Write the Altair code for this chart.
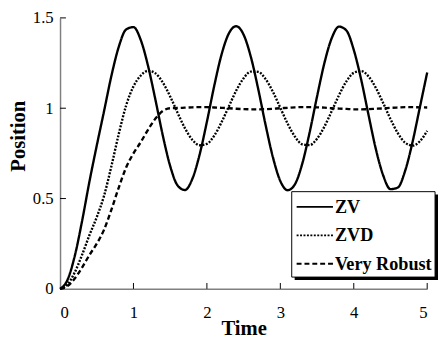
import altair as alt
import pandas as pd

TIME = [0.0, 0.1, 0.2, 0.3, 0.4, 0.5, 0.6, 0.7, 0.8, 0.9,
        1.0, 1.1, 1.2, 1.3, 1.4, 1.5, 1.6, 1.7, 1.8, 1.9,
        2.0, 2.1, 2.2, 2.3, 2.4, 2.5, 2.6, 2.7, 2.8, 2.9,
        3.0, 3.1, 3.2, 3.3, 3.4, 3.5, 3.6, 3.7, 3.8, 3.9,
        4.0, 4.1, 4.2, 4.3, 4.4, 4.5, 4.6, 4.7, 4.8, 4.9, 5.0]

ZV = [0.0, 0.048, 0.181, 0.375, 0.593, 0.793, 0.985, 1.180, 1.340, 1.436,
      1.449, 1.377, 1.232, 1.045, 0.848, 0.680, 0.573, 0.547, 0.607, 0.742,
      0.925, 1.124, 1.298, 1.415, 1.454, 1.407, 1.282, 1.104, 0.906, 0.727,
      0.597, 0.546, 0.580, 0.695, 0.868, 1.065, 1.250, 1.388, 1.452, 1.430,
      1.323, 1.160, 0.965, 0.775, 0.629, 0.552, 0.561, 0.654, 0.812, 1.005, 1.198]

ZVD = [0.0, 0.024, 0.091, 0.188, 0.297, 0.397, 0.516, 0.680, 0.858, 1.015,
       1.121, 1.181, 1.207, 1.193, 1.142, 1.065, 0.975, 0.890, 0.826, 0.795,
       0.803, 0.848, 0.923, 1.011, 1.098, 1.166, 1.203, 1.201, 1.161, 1.090,
       1.002, 0.914, 0.842, 0.800, 0.796, 0.831, 0.898, 0.984, 1.073, 1.149,
       1.196, 1.206, 1.177, 1.113, 1.029, 0.940, 0.862, 0.809, 0.793, 0.817, 0.875]

VERY_ROBUST = [0.0, 0.015, 0.057, 0.118, 0.187, 0.250, 0.328, 0.439, 0.561, 0.672,
               0.750, 0.813, 0.882, 0.943, 0.985, 1.000, 1.001, 1.003, 1.005, 1.006,
               1.006, 1.004, 1.002, 1.000, 0.997, 0.995, 0.994, 0.994, 0.995, 0.997,
               1.000, 1.002, 1.005, 1.006, 1.006, 1.005, 1.003, 1.000, 0.998, 0.996,
               0.994, 0.994, 0.995, 0.997, 0.999, 1.002, 1.004, 1.006, 1.006, 1.005, 1.004]

SERIES = ["ZV", "ZVD", "Very Robust"]
X_TICKS = [0, 1, 2, 3, 4, 5]
Y_TICKS = [0, 0.5, 1, 1.5]

rows = []
for name, vals in zip(SERIES, [ZV, ZVD, VERY_ROBUST]):
    for t, v in zip(TIME, vals):
        rows.append({"t": t, "v": v, "series": name})
df = pd.DataFrame(rows)

xs = alt.Scale(domain=[0, 5], nice=False, zero=False)
ys = alt.Scale(domain=[0, 1.5], nice=False, zero=False)
x_axis = alt.Axis(values=X_TICKS, title="Time", format="~g")
y_axis = alt.Axis(values=Y_TICKS, title="Position", format="~g", titleY=120)

# legend frame (plot-area pixels)
BOX_X0, BOX_X1, BOX_Y0, BOX_Y1 = 236, 382, 177, 264
one = pd.DataFrame({"k": [0]})

shadow = alt.Chart(one).mark_rect(color="black").encode(
    x=alt.value(BOX_X0 + 3), x2=alt.value(BOX_X1 + 3),
    y=alt.value(BOX_Y0 + 3), y2=alt.value(BOX_Y1 + 3),
)
box = alt.Chart(one).mark_rect(fill="white", stroke="black", strokeWidth=1).encode(
    x=alt.value(BOX_X0), x2=alt.value(BOX_X1),
    y=alt.value(BOX_Y0), y2=alt.value(BOX_Y1),
)

lines = alt.Chart(df).mark_line(color="black", strokeWidth=2.4, interpolate="monotone").encode(
    x=alt.X("t:Q", scale=xs, axis=x_axis),
    y=alt.Y("v:Q", scale=ys, axis=y_axis),
    strokeDash=alt.StrokeDash(
        "series:N",
        scale=alt.Scale(domain=SERIES, range=[[1, 0], [2, 1.5], [5, 3]]),
        legend=alt.Legend(
            title=None, orient="none", legendX=240, legendY=173,
            padding=0, symbolOffset=0,
            symbolType="stroke", symbolSize=1369, symbolStrokeWidth=2,
            symbolStrokeColor="black", labelFont="Liberation Serif",
            labelFontWeight="bold", labelFontSize=18.5, labelColor="black",
            rowPadding=-10, labelOffset=1,
        ),
    ),
)

xt = alt.Chart(pd.DataFrame({"t": X_TICKS[1:]})).mark_rule(color="black", strokeWidth=1).encode(
    x=alt.X("t:Q", scale=xs, axis=x_axis), y=alt.value(276), y2=alt.value(270)
)
yt = alt.Chart(pd.DataFrame({"v": Y_TICKS[1:]})).mark_rule(color="black", strokeWidth=1).encode(
    y=alt.Y("v:Q", scale=ys, axis=y_axis), x=alt.value(0), x2=alt.value(6)
)

chart = alt.layer(lines, xt, yt, shadow, box).properties(
    width=374, height=276,
    padding={"left": 53, "top": 7, "right": 11, "bottom": 49},
    autosize="none",
).configure_view(stroke=None).configure_axis(
    domainColor="#808080", domainWidth=1.5, ticks=False, grid=False,
    labelFont="Liberation Serif", labelFontSize=17, labelColor="black",
    titleFont="Liberation Serif", titleFontWeight="bold", titleColor="black",
).configure_axisX(labelPadding=16, titlePadding=-3, titleFontSize=21).configure_axisY(
    labelPadding=7, titlePadding=4, titleFontSize=21
)

chart.save("out.html", embed_options={"renderer": "svg", "actions": False})
